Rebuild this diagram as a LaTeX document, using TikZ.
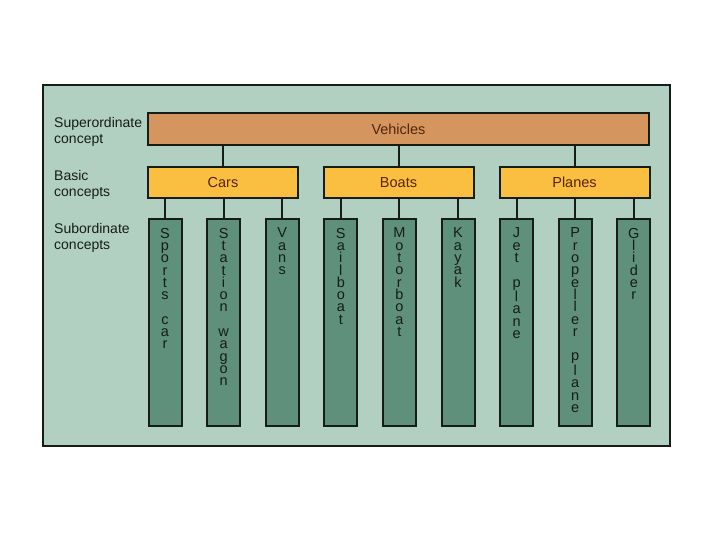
\documentclass[tikz,border=0pt]{standalone}
\usepackage{fontspec}
\setmainfont{Liberation Sans}
\usetikzlibrary{positioning}
\definecolor{panel}{RGB}{178,208,194}
\definecolor{vehcol}{RGB}{212,150,94}
\definecolor{basiccol}{RGB}{250,190,64}
\definecolor{subcol}{RGB}{94,144,124}
\definecolor{edge}{RGB}{22,28,24}
\definecolor{brown}{RGB}{84,36,14}

\begin{document}
\begin{tikzpicture}[x=1pt,y=-1pt,
      lab/.style={anchor=north west, inner sep=0pt, align=left, text=edge, font=\fontsize{14}{16.5}\selectfont},
      sup/.style={rectangle, draw=edge, line width=2pt, fill=vehcol, text=brown, minimum width=501pt, minimum height=32pt, font=\fontsize{14.5}{16}\selectfont},
      basic/.style={rectangle, draw=edge, line width=2pt, fill=basiccol, text=brown, minimum width=150pt, minimum height=31pt, font=\fontsize{14.5}{16}\selectfont},
      sub/.style={rectangle, draw=edge, line width=2pt, fill=subcol, text=edge, inner xsep=0pt, inner ysep=9pt, node distance=58.6pt, font=\fontsize{14.5}{12.3}\selectfont},
      link/.style={draw=edge, line width=2pt}]

\fill[white] (0,0) rectangle (720,540);
\useasboundingbox (0,0) rectangle (720,540);
\draw[line width=1.5pt, draw=edge, fill=panel] (43,85) rectangle (670,446);

% row labels
\node[lab] (lsup) at (54,117) {Superordinate\\concept};
\node[lab] (lbas) at (54,170) {Basic\\concepts};
\node[lab] (lsub) at (54,223) {Subordinate\\concepts};

\node[sup] (veh) at (398.5,129) {Vehicles};
\node[basic] (cars) at (223,182.5) {Cars};
\node[basic] (boats) at (398.5,182.5) {Boats};
\node[basic] (planes) at (574.5,182.5) {Planes};

\node[sub] (sc) at (165,322.5) {\parbox[t][189pt][t]{33pt}{\centering S\\p\\o\\r\\t\\s\\\mbox{}\\c\\a\\r}};
\node[sub,right of=sc] (sw) {\parbox[t][189pt][t]{33pt}{\centering S\\t\\a\\t\\i\\o\\n\\\mbox{}\\w\\a\\g\\o\\n}};
\node[sub,right of=sw] (vans) {\parbox[t][189pt][t]{33pt}{\centering V\\a\\n\\s}};
\node[sub,right of=vans] (sail) {\parbox[t][189pt][t]{33pt}{\centering S\\a\\i\\l\\b\\o\\a\\t}};
\node[sub,right of=sail] (motor) {\parbox[t][189pt][t]{33pt}{\centering M\\o\\t\\o\\r\\b\\o\\a\\t}};
\node[sub,right of=motor] (kayak) {\parbox[t][189pt][t]{33pt}{\centering K\\a\\y\\a\\k}};
\node[sub,right of=kayak] (jet) {\parbox[t][189pt][t]{33pt}{\centering J\\e\\t\\\mbox{}\\p\\l\\a\\n\\e}};
\node[sub,right of=jet] (prop) {\parbox[t][189pt][t]{33pt}{\centering P\\r\\o\\p\\e\\l\\l\\e\\r\\\mbox{}\\p\\l\\a\\n\\e}};
\node[sub,right of=prop] (glider) {\parbox[t][189pt][t]{33pt}{\centering G\\l\\i\\d\\e\\r}};

\draw[link] (cars.north) -- (cars.north |- veh.south);
\draw[link] (boats.north) -- (boats.north |- veh.south);
\draw[link] (planes.north) -- (planes.north |- veh.south);
\draw[link] (sc.north) -- (sc.north |- cars.south);
\draw[link] (sw.north) -- (sw.north |- cars.south);
\draw[link] (vans.north) -- (vans.north |- cars.south);
\draw[link] (sail.north) -- (sail.north |- boats.south);
\draw[link] (motor.north) -- (motor.north |- boats.south);
\draw[link] (kayak.north) -- (kayak.north |- boats.south);
\draw[link] (jet.north) -- (jet.north |- planes.south);
\draw[link] (prop.north) -- (prop.north |- planes.south);
\draw[link] (glider.north) -- (glider.north |- planes.south);

\end{tikzpicture}
\end{document}
